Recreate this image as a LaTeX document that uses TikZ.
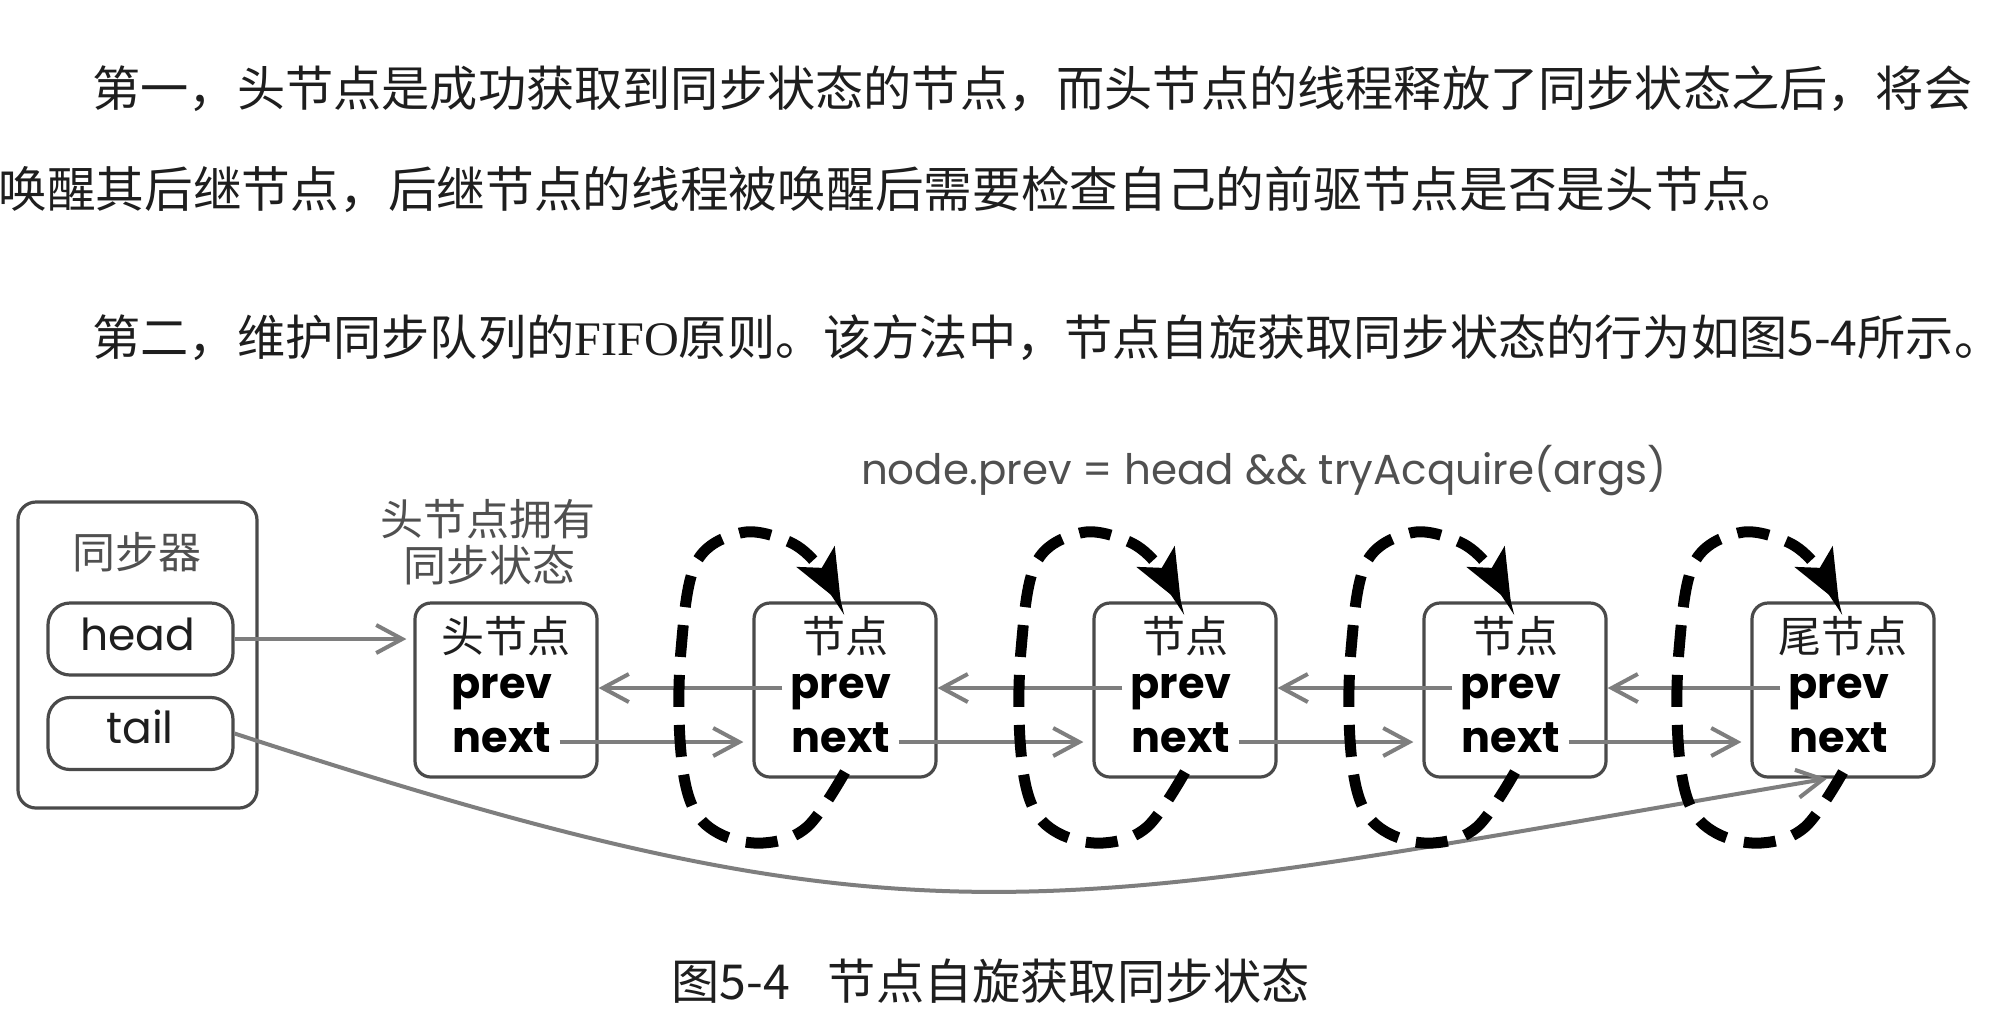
\documentclass[tikz,border=0pt]{standalone}
\usepackage{fontspec}
\usetikzlibrary{arrows.meta,calc}
\newfontfamily\cjk{Noto Sans CJK SC}
\newfontfamily\geo{Poppins}
\newfontfamily\tms{Liberation Serif}
\definecolor{boxgray}{HTML}{4A4A4A}
\definecolor{linegray}{HTML}{7E7E7E}
\definecolor{labgray}{HTML}{505050}
\definecolor{txt}{HTML}{1E1E1E}
\tikzset{
  body/.style={font=\cjk\fontsize{24.1pt}{28pt}\selectfont, text=txt, inner sep=0pt, anchor=west},
  nodebox/.style={draw=boxgray, line width=1.6pt, rounded corners=8pt, minimum width=91pt, minimum height=87pt, inner sep=0pt},
  fieldbox/.style={draw=boxgray, line width=1.6pt, rounded corners=11pt, minimum width=92.5pt, minimum height=36pt, inner sep=0pt},
  cjklab/.style={font=\cjk\fontsize{21.5pt}{24pt}\selectfont, inner sep=0pt},
  fld/.style={font=\geo\bfseries\fontsize{21.5pt}{24pt}\selectfont, inner sep=0pt, anchor=base, text=black},
  geolab/.style={font=\geo\fontsize{21pt}{24pt}\selectfont, inner sep=0pt, anchor=base},
  conn/.style={draw=linegray, line width=2pt, -{Straight Barb[length=13pt,width=14pt,line width=2pt]}},
  spin/.style={draw=black, line width=5.5pt, dash pattern=on 16pt off 9pt, -{Stealth[length=26pt,width=21pt,inset=6pt]}},
}
\begin{document}
\begin{tikzpicture}[x=0.5pt,y=-0.5pt]
\useasboundingbox[fill=white] (0,0) rectangle (2000,1035);

% body text
\node[body] (l1) at (92,89) {第一，头节点是成功获取到同步状态的节点，而头节点的线程释放了同步状态之后，将会};
\node[body, font=\cjk\fontsize{24.35pt}{28pt}\selectfont] (l2) at (-2,189) {唤醒其后继节点，后继节点的线程被唤醒后需要检查自己的前驱节点是否是头节点。};
\node[body] (l3) at (92,338) {第二，维护同步队列的{\tms FIFO}原则。该方法中，节点自旋获取同步状态的行为如图5-4所示。};
\node[body] (cap) at (671,981) {图5-4\hspace{19pt}节点自旋获取同步状态};

% synchronizer
\node[draw=boxgray, line width=1.6pt, rounded corners=9pt, minimum width=119.5pt, minimum height=153pt, inner sep=0pt] (sync) at (137.5,655) {};
\node[cjklab, text=labgray] (syncT) at (137,552) {同步器};
\node[fieldbox] (headbox) at (140.5,639) {};
\node[fieldbox] (tailbox) at (140.5,733.5) {};
\node[geolab, font=\geo\fontsize{22pt}{24pt}\selectfont, text=txt] (headT) at (138,650) {head};
\node[geolab, font=\geo\fontsize{22pt}{24pt}\selectfont, text=txt] (tailT) at (140,743) {tail};

% labels
\node[cjklab, text=labgray] (own1) at (488,519) {头节点拥有};
\node[cjklab, text=labgray] (own2) at (489,565) {同步状态};
\node[geolab, text=labgray] (cond) at (1264,484) {node.prev = head \&\& tryAcquire(args)};

% queue nodes
\node[nodebox] (hn) at (506,690) {};
\node[nodebox] (n2) at (845,690) {};
\node[nodebox] (n3) at (1185,690) {};
\node[nodebox] (n4) at (1515,690) {};
\node[nodebox] (n5) at (1843,690) {};
\foreach \n/\t in {hn/头节点, n2/节点, n3/节点, n4/节点, n5/尾节点} {
  \node[cjklab, text=txt] (\n T) at ($(\n.center)+(0,-54)$) {\t};
  \node[fld] (\n P) at ($(\n.center)+(-4,8)$) {prev};
  \node[fld] (\n N) at ($(\n.center)+(-4,62)$) {next};
}

% connectors
\draw[conn, shorten >=3.5pt] (headbox.east) -- (headbox.east -| hn.west);
\foreach \a/\b in {hn/n2, n2/n3, n3/n4, n4/n5} {
  \draw[conn] ([shift={(30,-2)}]\b.west) -- ([shift={(0,-2)}]\a.east);
  \draw[conn] ([shift={(-39,52)}]\a.east) -- ([shift={(-9,52)}]\b.west);
}
\draw[conn] (tailbox.east) .. controls (934,962) and (1040,912) .. ([shift={(-16,0)}]n5.south);

% spinning loops
\foreach \n in {n2,n3,n4,n5} {
  \begin{scope}[shift={(\n.center)}]
    \draw[spin] plot[smooth, tension=0.6] coordinates {(0,82) (-38,137) (-82,153) (-127,143) (-154,113) (-165,50) (-164,-40) (-149,-127) (-105,-157) (-60,-150) (-30,-128) (-4,-87)};
  \end{scope}
}
\end{tikzpicture}
\end{document}
